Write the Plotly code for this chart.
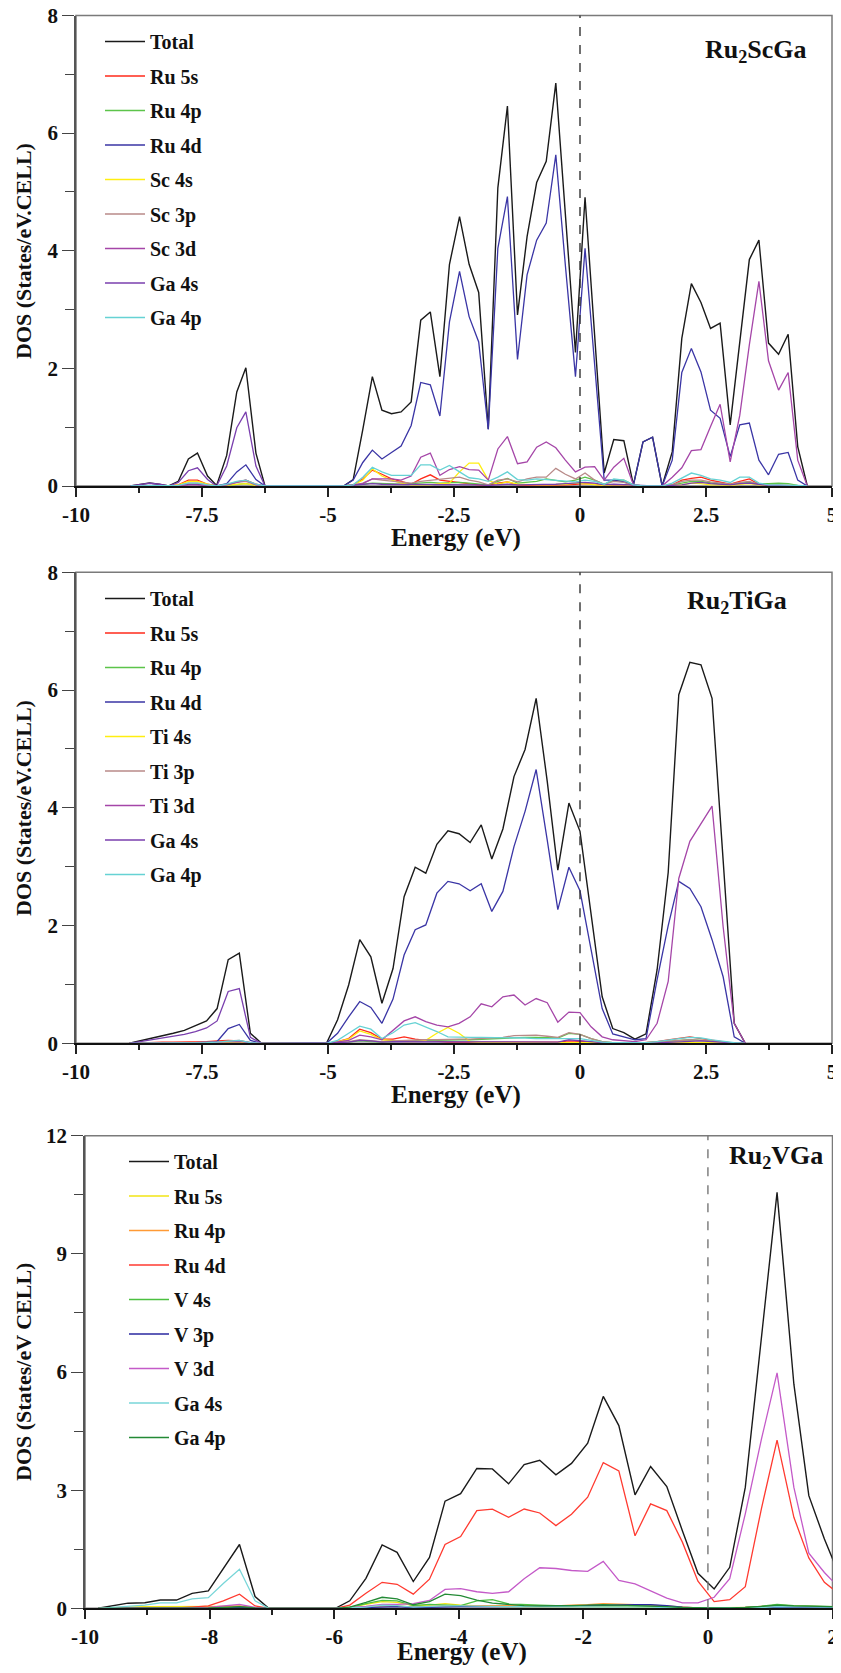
import plotly.graph_objects as go

SERIF = "Liberation Serif, Times New Roman, serif"

# ---------------- Panel 1 : Ru2ScGa ----------------
sc_energy = [-8.92, -8.73, -8.54, -8.35, -8.16, -7.97, -7.77, -7.59, -7.39, -7.21, -7.01, -6.81, -6.63, -6.43, -6.25,
             -4.69, -4.50, -4.31, -4.12, -3.93, -3.74, -3.55, -3.35, -3.16, -2.97, -2.78, -2.59, -2.39, -2.20, -2.01,
             -1.82, -1.63, -1.44, -1.24, -1.05, -0.86, -0.67, -0.48, -0.29, -0.09, 0.10, 0.29, 0.48, 0.67, 0.87,
             1.06, 1.25, 1.44, 1.63, 1.83, 2.02, 2.21, 2.40, 2.59, 2.78, 2.98, 3.17, 3.36, 3.55, 3.74, 3.94, 4.13, 4.32, 4.51]
sc_total = [0, 0.03, 0.05, 0.03, 0, 0.08, 0.46, 0.56, 0.17, 0.01, 0.52, 1.60, 2.01, 0.56, 0,
            0, 0.11, 0.96, 1.86, 1.29, 1.23, 1.26, 1.43, 2.82, 2.96, 1.86, 3.77, 4.58, 3.77, 3.29,
            0.97, 5.07, 6.46, 2.91, 4.24, 5.16, 5.52, 6.85, 4.55, 2.27, 4.91, 2.56, 0.22, 0.79, 0.77,
            0.02, 0.75, 0.83, 0, 0.58, 2.51, 3.44, 3.12, 2.68, 2.77, 1.04, 2.45, 3.85, 4.18, 2.43, 2.24, 2.58, 0.67, 0]
sc_ru5s = [0, 0, 0, 0, 0, 0.02, 0.10, 0.10, 0.03, 0, 0.02, 0.07, 0.10, 0.03, 0,
           0, 0.02, 0.12, 0.27, 0.20, 0.12, 0.08, 0.03, 0.12, 0.19, 0.10, 0.08, 0.06, 0.03, 0.02,
           0.01, 0.05, 0.07, 0.02, 0.01, 0.01, 0.01, 0.02, 0.02, 0.03, 0.04, 0.03, 0.01, 0.02, 0.02,
           0, 0, 0, 0, 0.02, 0.10, 0.13, 0.15, 0.10, 0.06, 0.03, 0.08, 0.12, 0.03, 0.01, 0.01, 0.01, 0, 0]
sc_ru4p = [0, 0, 0, 0, 0, 0.01, 0.03, 0.03, 0.01, 0, 0.01, 0.03, 0.04, 0.01, 0,
           0, 0.01, 0.03, 0.05, 0.04, 0.04, 0.03, 0.04, 0.05, 0.06, 0.05, 0.06, 0.06, 0.05, 0.04,
           0.02, 0.08, 0.13, 0.05, 0.06, 0.08, 0.12, 0.10, 0.07, 0.10, 0.15, 0.10, 0.03, 0.10, 0.10,
           0.02, 0, 0, 0, 0.02, 0.05, 0.08, 0.08, 0.05, 0.03, 0.02, 0.05, 0.06, 0.04, 0.04, 0.05, 0.04, 0.01, 0]
sc_ru4d = [0, 0.01, 0.01, 0.01, 0, 0.01, 0.03, 0.03, 0.01, 0, 0.04, 0.24, 0.36, 0.11, 0,
           0, 0.10, 0.40, 0.61, 0.46, 0.57, 0.68, 1.03, 1.76, 1.72, 1.19, 2.79, 3.65, 2.88, 2.45,
           0.96, 4.04, 4.92, 2.15, 3.59, 4.18, 4.47, 5.63, 3.75, 1.86, 4.04, 2.07, 0.10, 0.10, 0.07,
           0.02, 0.75, 0.83, 0, 0.44, 1.93, 2.34, 1.94, 1.29, 1.15, 0.50, 1.04, 1.07, 0.44, 0.19, 0.54, 0.57, 0.10, 0]
sc_sc4s = [0, 0, 0, 0, 0, 0.02, 0.08, 0.08, 0.03, 0, 0.01, 0.03, 0.04, 0.01, 0,
           0, 0.02, 0.10, 0.29, 0.17, 0.10, 0.05, 0.02, 0.02, 0.02, 0.04, 0.05, 0.24, 0.39, 0.39,
           0.10, 0.03, 0.07, 0.03, 0.02, 0.02, 0.02, 0.02, 0.03, 0.05, 0.04, 0.03, 0.01, 0.02, 0.02,
           0, 0, 0, 0, 0.01, 0.02, 0.05, 0.04, 0.02, 0.02, 0.01, 0.03, 0.04, 0.02, 0.01, 0.01, 0.01, 0, 0]
sc_sc3p = [0, 0, 0, 0, 0, 0.01, 0.05, 0.05, 0.02, 0, 0.02, 0.06, 0.08, 0.02, 0,
           0, 0.01, 0.05, 0.12, 0.10, 0.08, 0.06, 0.05, 0.08, 0.10, 0.12, 0.13, 0.15, 0.10, 0.07,
           0.02, 0.10, 0.12, 0.07, 0.12, 0.15, 0.15, 0.30, 0.20, 0.12, 0.22, 0.10, 0.03, 0.08, 0.06,
           0.01, 0, 0, 0, 0.02, 0.08, 0.10, 0.10, 0.07, 0.05, 0.03, 0.06, 0.08, 0.03, 0.01, 0.01, 0.01, 0, 0]
sc_sc3d = [0, 0, 0, 0, 0, 0, 0.02, 0.02, 0, 0, 0.02, 0.06, 0.10, 0.02, 0,
           0, 0.02, 0.04, 0.12, 0.12, 0.12, 0.10, 0.17, 0.49, 0.56, 0.18, 0.28, 0.33, 0.28, 0.27,
           0.10, 0.63, 0.84, 0.38, 0.41, 0.66, 0.75, 0.65, 0.44, 0.24, 0.32, 0.33, 0.10, 0.32, 0.47,
           0.02, 0, 0, 0, 0.15, 0.31, 0.60, 0.62, 1.01, 1.39, 0.41, 1.20, 2.40, 3.48, 2.13, 1.63, 1.93, 0.44, 0]
sc_ga4s = [0, 0.03, 0.05, 0.03, 0, 0.06, 0.26, 0.31, 0.11, 0, 0.34, 0.99, 1.26, 0.34, 0,
           0, 0.01, 0.02, 0.04, 0.03, 0.03, 0.02, 0.02, 0.03, 0.03, 0.02, 0.02, 0.02, 0.02, 0.02,
           0.01, 0.02, 0.03, 0.02, 0.02, 0.02, 0.02, 0.03, 0.04, 0.05, 0.06, 0.05, 0.02, 0.03, 0.02,
           0.01, 0, 0, 0, 0.01, 0.02, 0.05, 0.06, 0.04, 0.03, 0.02, 0.04, 0.05, 0.03, 0.01, 0.01, 0.01, 0, 0]
sc_ga4p = [0, 0, 0.01, 0, 0, 0.01, 0.05, 0.05, 0.02, 0, 0.03, 0.08, 0.10, 0.03, 0,
           0, 0.02, 0.15, 0.32, 0.24, 0.18, 0.18, 0.18, 0.36, 0.36, 0.27, 0.35, 0.24, 0.14, 0.12,
           0.08, 0.15, 0.24, 0.11, 0.10, 0.12, 0.11, 0.10, 0.08, 0.07, 0.10, 0.08, 0.03, 0.12, 0.10,
           0.02, 0, 0, 0, 0.05, 0.14, 0.22, 0.18, 0.12, 0.10, 0.06, 0.15, 0.15, 0.05, 0.02, 0.02, 0.02, 0.01, 0]

# ---------------- Panel 2 : Ru2TiGa ----------------
ti_energy = [-8.94, -8.72, -8.50, -8.29, -8.07, -7.85, -7.63, -7.41, -7.20, -6.98, -6.76, -6.54, -6.32,
             -5.03, -4.81, -4.59, -4.37, -4.15, -3.93, -3.71, -3.49, -3.27, -3.06, -2.84, -2.62, -2.40, -2.18, -1.96,
             -1.75, -1.53, -1.31, -1.09, -0.87, -0.65, -0.44, -0.22, 0.00, 0.22, 0.44, 0.65, 0.87, 1.09, 1.31,
             1.53, 1.75, 1.96, 2.18, 2.40, 2.62, 2.84, 3.06, 3.28]
ti_total = [0, 0.04, 0.08, 0.12, 0.17, 0.22, 0.30, 0.38, 0.59, 1.42, 1.53, 0.17, 0,
            0, 0.40, 0.99, 1.76, 1.47, 0.68, 1.27, 2.49, 2.99, 2.89, 3.38, 3.61, 3.56, 3.41, 3.71,
            3.13, 3.64, 4.53, 4.99, 5.86, 4.45, 2.94, 4.08, 3.60, 2.20, 0.79, 0.25, 0.18, 0.07, 0.16,
            1.25, 2.90, 5.92, 6.47, 6.43, 5.86, 3.11, 0.34, 0]
ti_ru5s = [0, 0.01, 0.01, 0.02, 0.02, 0.02, 0.03, 0.03, 0.04, 0.05, 0.04, 0.01, 0,
           0, 0.03, 0.08, 0.24, 0.18, 0.07, 0.07, 0.11, 0.07, 0.05, 0.03, 0.02, 0.02, 0.02, 0.02,
           0.02, 0.02, 0.02, 0.02, 0.02, 0.02, 0.02, 0.04, 0.03, 0.02, 0.01, 0.01, 0, 0, 0.01,
           0.03, 0.06, 0.09, 0.11, 0.08, 0.05, 0.02, 0, 0]
ti_ru4p = [0, 0, 0, 0, 0.01, 0.01, 0.01, 0.01, 0.02, 0.02, 0.02, 0, 0,
           0, 0.01, 0.02, 0.04, 0.03, 0.02, 0.03, 0.04, 0.05, 0.05, 0.05, 0.06, 0.06, 0.06, 0.07,
           0.07, 0.08, 0.10, 0.10, 0.10, 0.09, 0.09, 0.17, 0.15, 0.08, 0.03, 0.01, 0.01, 0, 0.01,
           0.02, 0.03, 0.05, 0.06, 0.05, 0.04, 0.02, 0, 0]
ti_ru4d = [0, 0, 0, 0, 0, 0.01, 0.01, 0.02, 0.03, 0.25, 0.32, 0.05, 0,
           0, 0.17, 0.45, 0.71, 0.61, 0.34, 0.75, 1.50, 1.93, 2.01, 2.55, 2.75, 2.71, 2.59, 2.71,
           2.24, 2.58, 3.34, 3.94, 4.65, 3.45, 2.27, 2.99, 2.59, 1.59, 0.59, 0.16, 0.11, 0.06, 0.08,
           1.08, 2.00, 2.75, 2.63, 2.32, 1.76, 1.13, 0.11, 0]
ti_ti4s = [0, 0, 0.01, 0.01, 0.01, 0.01, 0.01, 0.01, 0.01, 0.02, 0.02, 0, 0,
           0, 0.03, 0.07, 0.21, 0.15, 0.06, 0.04, 0.03, 0.03, 0.05, 0.17, 0.27, 0.17, 0.03, 0.01,
           0.01, 0.01, 0.01, 0.01, 0.01, 0.01, 0.01, 0.02, 0.02, 0.01, 0, 0, 0, 0, 0,
           0, 0.01, 0.02, 0.02, 0.02, 0.01, 0.01, 0, 0]
ti_ti3p = [0, 0, 0, 0.01, 0.01, 0.01, 0.01, 0.02, 0.02, 0.04, 0.05, 0.01, 0,
           0, 0.01, 0.03, 0.06, 0.05, 0.03, 0.04, 0.05, 0.06, 0.06, 0.06, 0.07, 0.07, 0.07, 0.08,
           0.08, 0.10, 0.13, 0.14, 0.14, 0.12, 0.10, 0.18, 0.15, 0.08, 0.03, 0.01, 0.01, 0, 0.01,
           0.02, 0.03, 0.05, 0.06, 0.05, 0.04, 0.02, 0, 0]
ti_ti3d = [0, 0, 0, 0, 0, 0, 0.01, 0.01, 0.02, 0.03, 0.03, 0.01, 0,
           0, 0.02, 0.05, 0.14, 0.11, 0.06, 0.22, 0.38, 0.45, 0.37, 0.31, 0.28, 0.34, 0.45, 0.67,
           0.62, 0.79, 0.82, 0.65, 0.76, 0.69, 0.36, 0.53, 0.52, 0.28, 0.11, 0.06, 0.04, 0.03, 0.06,
           0.34, 1.05, 2.80, 3.43, 3.73, 4.03, 1.98, 0.34, 0]
ti_ga4s = [0, 0.03, 0.06, 0.09, 0.12, 0.15, 0.20, 0.26, 0.38, 0.88, 0.93, 0.10, 0,
           0, 0.01, 0.02, 0.05, 0.04, 0.02, 0.03, 0.03, 0.03, 0.03, 0.02, 0.02, 0.02, 0.02, 0.02,
           0.02, 0.02, 0.02, 0.02, 0.02, 0.02, 0.02, 0.06, 0.04, 0.02, 0.01, 0.01, 0, 0, 0,
           0.01, 0.02, 0.03, 0.04, 0.04, 0.03, 0.02, 0, 0]
ti_ga4p = [0, 0, 0, 0, 0, 0.01, 0.01, 0.01, 0.02, 0.04, 0.05, 0.01, 0,
           0, 0.05, 0.17, 0.29, 0.24, 0.08, 0.18, 0.31, 0.35, 0.28, 0.20, 0.11, 0.10, 0.10, 0.10,
           0.10, 0.09, 0.09, 0.09, 0.08, 0.08, 0.07, 0.07, 0.08, 0.05, 0.02, 0.01, 0.01, 0, 0.01,
           0.03, 0.06, 0.08, 0.10, 0.09, 0.06, 0.03, 0.01, 0]

# ---------------- Panel 3 : Ru2VGa ----------------
v_energy = [-9.79, -9.55, -9.31, -9.04, -8.79, -8.53, -8.28, -8.02, -7.78, -7.52, -7.27, -7.05,
            -5.98, -5.75, -5.49, -5.23, -4.99, -4.73, -4.47, -4.22, -3.97, -3.71, -3.46, -3.20, -2.95, -2.70,
            -2.44, -2.19, -1.93, -1.68, -1.43, -1.17, -0.92, -0.66, -0.41, -0.16, 0.10, 0.35, 0.60, 0.86,
            1.11, 1.38, 1.62, 1.87, 2.12]
v_total = [0, 0.06, 0.13, 0.14, 0.21, 0.21, 0.38, 0.44, 1.02, 1.62, 0.30, 0,
           0, 0.19, 0.76, 1.61, 1.42, 0.68, 1.29, 2.72, 2.91, 3.55, 3.54, 3.16, 3.65, 3.76,
           3.39, 3.68, 4.19, 5.38, 4.64, 2.88, 3.60, 3.09, 1.97, 0.89, 0.49, 1.04, 3.07, 6.90,
           10.56, 5.69, 2.86, 1.76, 0.80]
v_ru5s = [0, 0.02, 0.03, 0.04, 0.04, 0.04, 0.04, 0.04, 0.04, 0.05, 0.01, 0,
          0, 0.03, 0.10, 0.17, 0.15, 0.07, 0.08, 0.12, 0.08, 0.06, 0.05, 0.04, 0.04, 0.04,
          0.04, 0.04, 0.04, 0.05, 0.04, 0.03, 0.03, 0.02, 0.01, 0.01, 0.01, 0.01, 0.01, 0.02,
          0.03, 0.02, 0.02, 0.02, 0.02]
v_ru4p = [0, 0, 0, 0.01, 0.01, 0.01, 0.02, 0.03, 0.04, 0.06, 0.01, 0,
          0, 0.01, 0.04, 0.06, 0.06, 0.03, 0.05, 0.07, 0.07, 0.07, 0.07, 0.06, 0.07, 0.07,
          0.06, 0.08, 0.09, 0.12, 0.10, 0.09, 0.08, 0.05, 0.02, 0.01, 0.01, 0.01, 0.02, 0.05,
          0.08, 0.06, 0.05, 0.04, 0.03]
v_ru4d = [0, 0, 0, 0, 0.01, 0.01, 0.03, 0.06, 0.19, 0.36, 0.06, 0,
          0, 0.08, 0.38, 0.66, 0.61, 0.36, 0.74, 1.62, 1.82, 2.48, 2.52, 2.31, 2.52, 2.42,
          2.10, 2.39, 2.82, 3.70, 3.49, 1.84, 2.65, 2.48, 1.68, 0.69, 0.17, 0.22, 0.55, 2.54,
          4.27, 2.31, 1.28, 0.66, 0.35]
v_v4s = [0, 0, 0, 0, 0, 0, 0, 0.01, 0.01, 0.02, 0, 0,
         0, 0.02, 0.12, 0.20, 0.19, 0.07, 0.10, 0.08, 0.07, 0.19, 0.22, 0.11, 0.09, 0.08,
         0.07, 0.07, 0.07, 0.07, 0.06, 0.06, 0.05, 0.03, 0.01, 0.01, 0.01, 0.01, 0.02, 0.05,
         0.10, 0.07, 0.06, 0.05, 0.04]
v_v3p = [0, 0, 0, 0, 0, 0, 0, 0.01, 0.01, 0.02, 0, 0,
         0, 0.01, 0.02, 0.04, 0.04, 0.02, 0.03, 0.04, 0.04, 0.04, 0.04, 0.04, 0.05, 0.05,
         0.05, 0.06, 0.07, 0.08, 0.08, 0.09, 0.09, 0.07, 0.03, 0.01, 0.01, 0.01, 0.01, 0.02,
         0.03, 0.02, 0.02, 0.02, 0.02]
v_v3d = [0, 0, 0, 0, 0, 0, 0.01, 0.02, 0.05, 0.10, 0.02, 0,
         0, 0.02, 0.05, 0.10, 0.10, 0.12, 0.20, 0.48, 0.50, 0.42, 0.38, 0.42, 0.75, 1.03,
         1.01, 0.96, 0.94, 1.19, 0.71, 0.62, 0.45, 0.26, 0.14, 0.14, 0.28, 0.75, 2.40, 4.30,
         5.98, 3.07, 1.40, 0.91, 0.50]
v_ga4s = [0, 0.03, 0.06, 0.08, 0.14, 0.14, 0.24, 0.27, 0.63, 0.99, 0.19, 0,
          0, 0.01, 0.03, 0.08, 0.07, 0.03, 0.05, 0.06, 0.06, 0.05, 0.05, 0.04, 0.04, 0.04,
          0.04, 0.03, 0.03, 0.03, 0.03, 0.03, 0.03, 0.02, 0.01, 0.01, 0.01, 0.01, 0.01, 0.02,
          0.04, 0.03, 0.03, 0.03, 0.03]
v_ga4p = [0, 0, 0, 0, 0, 0, 0.01, 0.01, 0.02, 0.04, 0.01, 0,
          0, 0.03, 0.15, 0.28, 0.24, 0.09, 0.17, 0.36, 0.32, 0.21, 0.13, 0.09, 0.07, 0.06,
          0.06, 0.07, 0.08, 0.09, 0.08, 0.07, 0.06, 0.04, 0.02, 0.01, 0.01, 0.01, 0.02, 0.05,
          0.08, 0.06, 0.05, 0.05, 0.04]

# labels / ticks
sc_names = ["Total", "Ru 5s", "Ru 4p", "Ru 4d", "Sc 4s", "Sc 3p", "Sc 3d", "Ga 4s", "Ga 4p"]
ti_names = ["Total", "Ru 5s", "Ru 4p", "Ru 4d", "Ti 4s", "Ti 3p", "Ti 3d", "Ga 4s", "Ga 4p"]
v_names = ["Total", "Ru 5s", "Ru 4p", "Ru 4d", "V 4s", "V 3p", "V 3d", "Ga 4s", "Ga 4p"]

x_ticks_12 = [-10, -7.5, -5, -2.5, 0, 2.5, 5]
x_ticktext_12 = ["-10", "-7.5", "-5", "-2.5", "0", "2.5", "5"]
x_minor_12 = [-8.75, -6.25, -3.75, -1.25, 1.25, 3.75]
y_ticks_12 = [0, 2, 4, 6, 8]
y_minor_12 = [1, 3, 5, 7]
x_ticks_3 = [-10, -8, -6, -4, -2, 0, 2]
x_ticktext_3 = ["-10", "-8", "-6", "-4", "-2", "0", "2"]
x_minor_3 = [-9, -7, -5, -3, -1, 1]
y_ticks_3 = [0, 3, 6, 9, 12]
y_minor_3 = [1.5, 4.5, 7.5, 10.5]

colors_12 = ["#1a1a1a", "#ff2a1a", "#5cc44a", "#3a35a5", "#ffee10", "#b88a88", "#a546a8", "#7a3fae", "#66d2d4"]
colors_3 = ["#1a1a1a", "#f2e415", "#ff9a35", "#ff3a30", "#4cc040", "#2a28a0", "#c45ac8", "#78d6d8", "#238a35"]

# the page body adds an 8 px margin; the figure is sized so that it ends at the window edge
OFF = 8
W, H = 841 - OFF, 1673 - OFF
fig = go.Figure()

panels = [
    dict(xa="x", ya="y", leg="legend", energy=sc_energy,
         series=[sc_total, sc_ru5s, sc_ru4p, sc_ru4d, sc_sc4s, sc_sc3p, sc_sc3d, sc_ga4s, sc_ga4p],
         names=sc_names, colors=colors_12),
    dict(xa="x2", ya="y2", leg="legend2", energy=ti_energy,
         series=[ti_total, ti_ru5s, ti_ru4p, ti_ru4d, ti_ti4s, ti_ti3p, ti_ti3d, ti_ga4s, ti_ga4p],
         names=ti_names, colors=colors_12),
    dict(xa="x3", ya="y3", leg="legend3", energy=v_energy,
         series=[v_total, v_ru5s, v_ru4p, v_ru4d, v_v4s, v_v3p, v_v3d, v_ga4s, v_ga4p],
         names=v_names, colors=colors_3),
]

for pi, p in enumerate(panels):
    for name, vals, col in zip(p["names"], p["series"], p["colors"]):
        assert len(vals) == len(p["energy"]), (pi, name, len(vals), len(p["energy"]))
        fig.add_trace(go.Scatter(
            x=p["energy"], y=vals, mode="lines", name=name,
            line=dict(color=col, width=1.4 if name == "Total" else 1.3),
            xaxis=p["xa"], yaxis=p["ya"], legend=p["leg"],
            legendgroup=f"p{pi}_{name}", showlegend=True,
            hoverinfo="skip"))

def px_x(v):
    return (v - OFF) / W

def px_y(v):
    return 1 - (v - OFF) / H

# plot areas in window pixels (left, right, top, bottom)
areas = [(76, 832, 15.5, 486.0), (76, 832, 572.3, 1043.3), (85, 832.5, 1135.7, 1608.3)]

tickfont = dict(family=SERIF, size=21, color="#111111", weight="bold")
layout = dict(width=W, height=H, margin=dict(l=0, r=0, t=0, b=0, autoexpand=False),
              paper_bgcolor="white", plot_bgcolor="white", showlegend=True)

xcfg = [(-10, 5, x_ticks_12, x_ticktext_12, x_minor_12),
        (-10, 5, x_ticks_12, x_ticktext_12, x_minor_12),
        (-10, 2, x_ticks_3, x_ticktext_3, x_minor_3)]
ycfg = [(8, y_ticks_12, y_minor_12), (8, y_ticks_12, y_minor_12), (12, y_ticks_3, y_minor_3)]

for i in range(3):
    l, r, t, b = areas[i]
    sfx = "" if i == 0 else str(i + 1)
    x0, x1, xt, xtt, xm = xcfg[i]
    ymax, yt, ym = ycfg[i]
    layout["xaxis" + sfx] = dict(
        domain=[px_x(l), px_x(r)], anchor="y" + sfx, range=[x0, x1], automargin=False,
        tickvals=xt, ticktext=xtt, ticks="outside", ticklen=9, tickwidth=1.5, tickcolor="#222",
        minor=dict(tickvals=xm, ticks="outside", ticklen=5, tickwidth=1.5, tickcolor="#222"),
        showline=True, linecolor="#111", linewidth=1.8, showgrid=False, zeroline=False,
        tickfont=tickfont, ticklabelstandoff=0, ticklabeloverflow="allow")
    layout["yaxis" + sfx] = dict(
        domain=[px_y(b), px_y(t)], anchor="x" + sfx, range=[0, ymax], automargin=False,
        tickvals=yt, ticktext=[str(v) for v in yt], ticks="outside", ticklen=12, tickwidth=1.2,
        tickcolor="#444",
        minor=dict(tickvals=ym, ticks="outside", ticklen=9, tickwidth=1.2, tickcolor="#444"),
        showline=True, linecolor="#555", linewidth=1.5, showgrid=False, zeroline=False,
        tickfont=tickfont, ticklabelstandoff=0, ticklabeloverflow="allow")

# legend anchor (left, top) in window pixels
leg_pos = [(100, 22), (100, 579), (124, 1142)]
for i, (lx, ly) in enumerate(leg_pos):
    key = "legend" if i == 0 else f"legend{i + 1}"
    layout[key] = dict(x=px_x(lx), y=px_y(ly), xanchor="left", yanchor="top",
                       bgcolor="rgba(0,0,0,0)", borderwidth=0, tracegroupgap=5.5,
                       itemwidth=40, traceorder="grouped",
                       font=dict(family=SERIF, size=20, color="#111111", weight="bold"))

fig.update_layout(**layout)

shapes = []
for i in range(3):
    sfx = "" if i == 0 else str(i + 1)
    xa = "x" + sfx
    ya = "y" + sfx
    shapes.append(dict(type="rect", xref=xa + " domain", yref=ya + " domain", x0=0, x1=1, y0=0, y1=1,
                       line=dict(color="#7a7a7a", width=1.5), layer="below"))
    shapes.append(dict(type="line", xref=xa, yref=ya + " domain", x0=0, x1=0, y0=0, y1=1,
                       line=dict(color="#333" if i < 2 else "#777", width=1.4, dash="dash"),
                       layer="above"))
fig.update_layout(shapes=shapes)

ann = []
titles = [("Ru<sub>2</sub>ScGa", 756, 51), ("Ru<sub>2</sub>TiGa", 737, 602), ("Ru<sub>2</sub>VGa", 776, 1157)]
for txt, ax_, ay_ in titles:
    ann.append(dict(text=txt, x=px_x(ax_), y=px_y(ay_), xref="paper", yref="paper",
                    showarrow=False, xanchor="center", yanchor="middle",
                    font=dict(family=SERIF, size=26, color="#111", weight="bold")))
xtitles = [(456, 538), (456, 1095), (462, 1652)]
for ax_, ay_ in xtitles:
    ann.append(dict(text="Energy (eV)", x=px_x(ax_), y=px_y(ay_), xref="paper", yref="paper",
                    showarrow=False, xanchor="center", yanchor="middle",
                    font=dict(family=SERIF, size=25, color="#111", weight="bold")))
ytitles = [("DOS (States/eV.CELL)", 251), ("DOS (States/eV.CELL)", 808), ("DOS (States/eV CELL)", 1372)]
for txt, ay_ in ytitles:
    ann.append(dict(text=txt, x=px_x(23), y=px_y(ay_), xref="paper", yref="paper",
                    showarrow=False, xanchor="center", yanchor="middle", textangle=-90,
                    font=dict(family=SERIF, size=22, color="#111", weight="bold")))
fig.update_layout(annotations=ann)

fig.write_html("out.html")
